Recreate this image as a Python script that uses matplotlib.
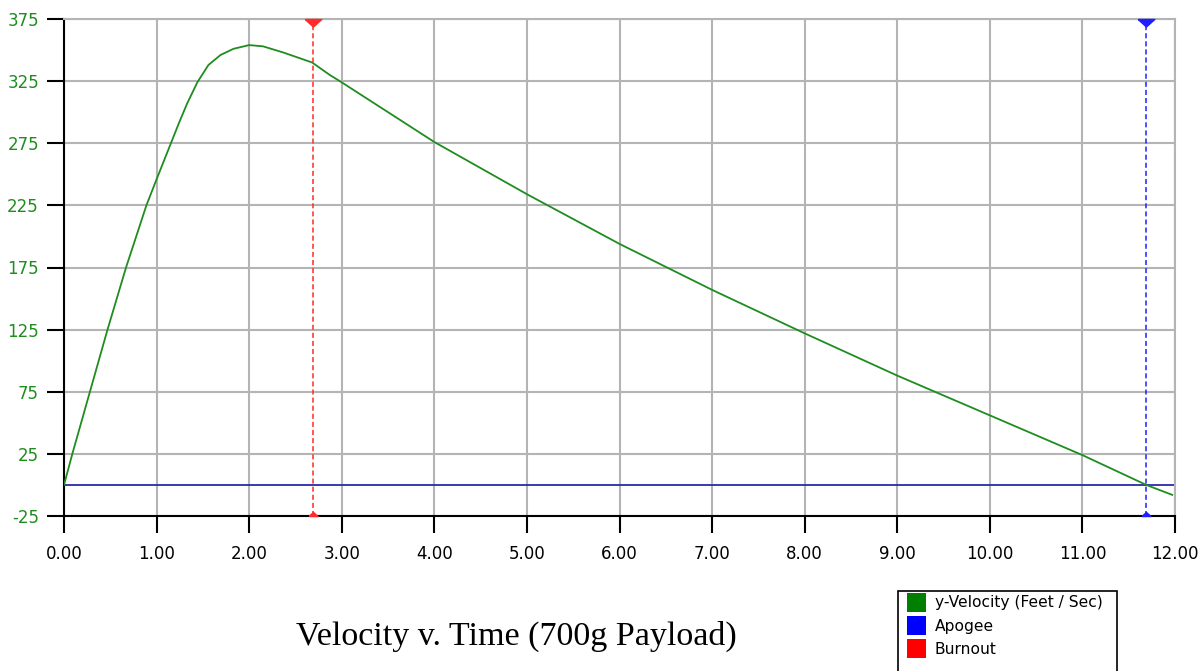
import numpy as np
import matplotlib
matplotlib.use("Agg")
import matplotlib.pyplot as plt
from matplotlib.patches import Rectangle

# time (s) and vertical velocity (ft/s)
time_s = [0.0, 0.09, 0.28, 0.47, 0.67, 0.89, 1.0, 1.08, 1.16, 1.24, 1.33,
          1.44, 1.56, 1.69, 1.83, 2.0, 2.15, 2.37, 2.68, 2.87, 3.0, 4.0,
          5.0, 6.0, 7.0, 8.0, 9.0, 10.0, 11.0, 11.69, 11.97]
velocity = [0, 25, 75, 125, 175, 225, 246, 261, 276, 291, 307,
            324, 338, 346, 351, 354, 353, 348, 340, 330, 324, 276,
            234, 194, 157, 122, 88, 56, 24, 0, -8]

burnout_t = 2.69
apogee_t = 11.69

x_ticks = np.arange(0, 13, 1)
y_ticks = np.arange(-25, 376, 50)

legend_labels = ["y-Velocity (Feet / Sec)", "Apogee", "Burnout"]
legend_colors = ["#007f00", "#0000ff", "#ff0000"]

green = "#1f8c1f"
red = "#ff2a2a"
blue = "#1f1fff"

W, H = 1204, 671
fig = plt.figure(figsize=(W / 100, H / 100), dpi=100)
ax = fig.add_axes([64 / W, 1 - 516 / H, 1111 / W, 497 / H])

ax.set_xlim(0, 12)
ax.set_ylim(-25, 375)
ax.set_xticks(x_ticks)
ax.set_xticklabels(["%.2f" % v for v in x_ticks])
ax.set_yticks(y_ticks)
ax.set_yticklabels([str(v) for v in y_ticks])

ax.grid(True, color="#b4b4b4", linewidth=1.5, zorder=0)
ax.set_axisbelow(True)
for s in ["top", "right"]:
    ax.spines[s].set_color("#b4b4b4")
    ax.spines[s].set_linewidth(1.5)
for s in ["left", "bottom"]:
    ax.spines[s].set_color("black")
    ax.spines[s].set_linewidth(1.5)

ax.tick_params(axis="both", direction="out", length=12, width=1.5,
               labelsize=12, color="black")
ax.tick_params(axis="y", labelcolor=green, pad=6)
ax.tick_params(axis="x", labelcolor="black", pad=9)

# zero line
ax.axhline(0, color="#2a2aa8", linewidth=1.3, zorder=2)

# velocity curve
ax.plot(time_s, velocity, color=green, linewidth=1.3, zorder=3)

# event markers
down_tri = [(-1, 0), (1, 0), (0, -0.9), (-1, 0)]
up_tri = [(-1, 0), (1, 0), (0, 0.9), (-1, 0)]
for t, c in [(burnout_t, red), (apogee_t, blue)]:
    ax.axvline(t, color=c, linewidth=1.1, linestyle=(0, (3.3, 2)), zorder=4)
    ax.plot([t], [375], marker=down_tri, markersize=12, color=c,
            clip_on=False, zorder=5)
    ax.plot([t], [-25], marker=up_tri, markersize=6.5, color=c,
            clip_on=False, zorder=5)

fig.text(516 / W, 1 - 645 / H, "Velocity v. Time (700g Payload)",
         ha="center", va="baseline", fontsize=24.5, family="Liberation Serif")

# legend box, open at the bottom edge like the original
fig.add_artist(Rectangle((898 / W, -0.02), 219 / W, 0.02 + (H - 591) / H,
                         transform=fig.transFigure, facecolor="white",
                         edgecolor="black", linewidth=1.2))
for i, (lab, col) in enumerate(zip(legend_labels, legend_colors)):
    top = 593 + i * 23
    fig.add_artist(Rectangle((907 / W, 1 - (top + 19) / H), 19 / W, 19 / H,
                             transform=fig.transFigure, facecolor=col,
                             edgecolor="none"))
    fig.text(935 / W, 1 - (top + 10) / H, lab, ha="left", va="center",
             fontsize=11.2, family="DejaVu Sans")

fig.savefig("out.png", dpi=100)
